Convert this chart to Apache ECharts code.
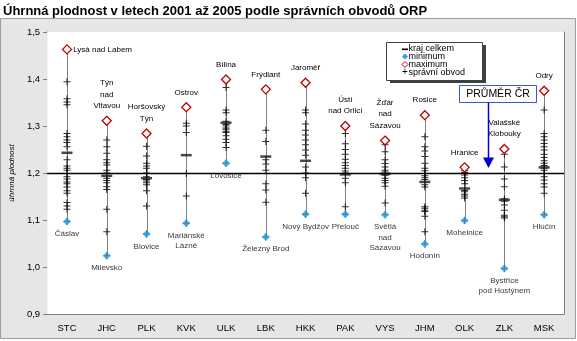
<!DOCTYPE html>
<html><head><meta charset="utf-8">
<script src="https://cdn.jsdelivr.net/npm/echarts@6/dist/echarts.min.js"></script>
<style>html,body{margin:0;padding:0;background:#fff;}#c{width:577px;height:341px;}</style>
</head><body><div id="c"></div>
<script>
const categories = ['STC','JHC','PLK','KVK','ULK','LBK','HKK','PAK','VYS','JHM','OLK','ZLK','MSK'];
const STC = [1.463,1.394,1.358,1.351,1.345,1.284,1.277,1.270,1.265,1.256,1.228,1.215,1.210,1.206,1.199,1.192,1.187,1.181,1.177,1.170,1.162,1.157,1.137,1.130,1.123,1.097];
const JHC = [1.311,1.270,1.256,1.242,1.228,1.222,1.217,1.206,1.200,1.189,1.184,1.179,1.171,1.165,1.123,1.075,1.024];
const PLK = [1.284,1.257,1.236,1.221,1.215,1.210,1.200,1.192,1.186,1.183,1.179,1.175,1.162,1.130,1.070];
const KVK = [1.340,1.306,1.300,1.286,1.199,1.151,1.093];
const ULK = [1.399,1.382,1.334,1.328,1.310,1.303,1.300,1.296,1.293,1.289,1.286,1.279,1.272,1.265,1.254,1.221];
const LBK = [1.378,1.291,1.267,1.228,1.219,1.206,1.177,1.164,1.138,1.064];
const HKK = [1.392,1.334,1.328,1.304,1.291,1.281,1.270,1.260,1.249,1.238,1.213,1.200,1.190,1.157,1.112];
const PAK = [1.300,1.284,1.262,1.250,1.240,1.229,1.222,1.216,1.210,1.204,1.200,1.189,1.179,1.128,1.112];
const VYS = [1.269,1.260,1.245,1.228,1.220,1.213,1.206,1.202,1.195,1.189,1.184,1.179,1.172,1.136,1.111];
const JHM = [1.323,1.277,1.256,1.247,1.235,1.221,1.210,1.205,1.199,1.194,1.190,1.186,1.175,1.170,1.128,1.125,1.121,1.118,1.108,1.075,1.049];
const OLK = [1.212,1.205,1.201,1.196,1.190,1.184,1.177,1.163,1.160,1.155,1.151,1.147,1.099];
const ZLK = [1.251,1.240,1.213,1.187,1.171,1.145,1.140,1.132,1.121,1.110,1.107,1.104,0.997];
const MSK = [1.375,1.334,1.284,1.277,1.270,1.263,1.256,1.249,1.240,1.233,1.226,1.221,1.216,1.210,1.206,1.199,1.192,1.185,1.177,1.170,1.157,1.111];
const krajCelkem = [1.243,1.194,1.189,1.238,1.307,1.235,1.226,1.197,1.198,1.181,1.167,1.143,1.212];
const maxNames = ['Lysá nad Labem','Týn\nnad\nVltavou','Horšovský\nTýn','Ostrov','Bílina','Frýdlant','Jaroměř','Ústí\nnad Orlicí','Žďár\nnad\nSázavou','Rosice','Hranice','Valašské\nKlobouky','Odry'];
const minNames = ['Čáslav','Milevsko','Blovice','Mariánské\nLázně','Lovosice','Železný Brod','Nový Bydžov','Přelouč','Světlá\nnad\nSázavou','Hodonín','Mohelnice','Bystřice\npod Hostýnem','Hlučín'];
const czAverage = 1.203;
const yTicks = [0.9,1.0,1.1,1.2,1.3,1.4,1.5];
const legendLabels = ['kraj celkem','minimum','maximum','správní obvod'];
const titleText = 'Úhrnná plodnost v letech 2001 až 2005 podle správních obvodů ORP';
const avgLabel = 'PRŮMĚR ČR';

const orp = [STC,JHC,PLK,KVK,ULK,LBK,HKK,PAK,VYS,JHM,OLK,ZLK,MSK];
const mins = orp.map(a => Math.min(...a));
const maxs = orp.map(a => Math.max(...a));

const smallFont = "'Liberation Sans',Arial,sans-serif";
const font = "'Liberation Sans',Arial,sans-serif";
const maxLabelStyle = {STC: {position:'right', distance:1}};
const grey = '#e6e6e6';
const maxRed = '#c00000';

const plusPath = 'path://M3,0h1v3h3v1h-3v3h-1v-3h-3v-1h3z';

const chart = echarts.init(document.getElementById('c'), null, {renderer:'canvas'});
const plusData = [];
orp.forEach((arr,i)=>arr.forEach(v=>plusData.push([i,v])));

const option = {
  animation:false,
  backgroundColor:grey,
  title:{text:titleText,left:-2,top:0,z:20,textStyle:{fontFamily:font,fontSize:13,fontWeight:'bold',color:'#000'}},
  grid:{left:43,top:32,width:521,height:282,show:true,backgroundColor:'#fff',borderWidth:0,z:1},
  xAxis:{type:'category',data:categories,boundaryGap:true,
    axisLine:{lineStyle:{color:'#808080'}},axisTick:{show:false},
    axisLabel:{fontFamily:font,fontSize:9.5,color:'#000',margin:9},
    splitLine:{show:true,interval:0,lineStyle:{color:'#808080',type:[3,3]}}},
  yAxis:[{type:'value',min:yTicks[0],max:yTicks[yTicks.length-1],interval:0.1,
    name:'úhrnná plodnost',nameLocation:'middle',nameRotate:90,nameGap:30,
    nameTextStyle:{fontFamily:smallFont,fontSize:8,fontStyle:'italic',color:'#000'},
    axisLine:{show:true,lineStyle:{color:'#808080'}},axisTick:{show:true,length:4,lineStyle:{color:'#808080'}},
    axisLabel:{fontFamily:font,fontSize:9.5,color:'#000',margin:7,formatter:v=>v.toFixed(1).replace('.',',')},
    splitLine:{show:true,showMaxLine:false,showMinLine:false,lineStyle:{color:'#808080',type:[3,3]}}},
    {type:'value',position:'right',min:yTicks[0],max:yTicks[yTicks.length-1],interval:0.1,
    axisLine:{show:true,lineStyle:{color:'#808080'}},axisTick:{show:false},axisLabel:{show:false},splitLine:{show:false}}],
  series:[
    {type:'custom',z:2,data:categories.map((c,i)=>[i,mins[i],maxs[i]]),
      renderItem:(p,api)=>{const a=api.coord([api.value(0),api.value(1)]);const b=api.coord([api.value(0),api.value(2)]);
        return {type:'line',shape:{x1:Math.round(a[0])+0.5,y1:a[1],x2:Math.round(b[0])+0.5,y2:b[1]},style:{stroke:'#7f7f7f',lineWidth:1}};},
      markLine:{silent:true,symbol:'none',label:{show:false},lineStyle:{color:'#000',width:1.4,type:'solid'},data:[{yAxis:czAverage}]}},
    {type:'scatter',z:3,symbol:plusPath,symbolSize:[7,7],itemStyle:{color:'#000'},data:plusData},
    {type:'scatter',z:4,symbol:'rect',symbolSize:[11,2.5],itemStyle:{color:'#1a1a1a'},data:krajCelkem.map((v,i)=>[i,v])},
    {type:'scatter',z:5,symbol:'diamond',symbolSize:8,itemStyle:{color:'#2ea0e6'},
      data:mins.map((v,i)=>({value:[i,v],label:{show:true,formatter:minNames[i]}})),
      label:{position:'bottom',distance:3,fontFamily:smallFont,fontSize:8,lineHeight:10.5,color:'#000',align:'center'}},
    {type:'scatter',z:5,symbol:'diamond',symbolSize:9,itemStyle:{color:'#fff',borderColor:maxRed,borderWidth:1.3,opacity:1},
      data:maxs.map((v,i)=>({value:[i,v],label:Object.assign({show:true,formatter:maxNames[i]},maxLabelStyle[categories[i]]||{})})),
      label:{position:'top',distance:4,fontFamily:smallFont,fontSize:8,lineHeight:11.5,color:'#000'}}
  ]
};
chart.setOption(option);

const yAvg = chart.convertToPixel({yAxisIndex:0}, czAverage);
const xO = chart.convertToPixel({xAxisIndex:0}, 'OLK');
const xZ = chart.convertToPixel({xAxisIndex:0}, 'ZLK');
const ax = Math.round(xO + 0.6*(xZ-xO)) + 0.5;
const lx = 397, ly = 42;
chart.setOption({graphic:[
  {type:'rect',z:0,silent:true,shape:{x:0,y:0,width:577,height:18},style:{fill:'#fff'}},
  {type:'rect',z:0,silent:true,shape:{x:576,y:0,width:1,height:341},style:{fill:'#fff'}},
  {type:'rect',z:0,silent:true,shape:{x:0,y:339,width:577,height:2},style:{fill:'#fff'}},
  {type:'rect',z:0,silent:true,shape:{x:0.5,y:18.5,width:575,height:320},style:{fill:null,stroke:'#9c9c9c',lineWidth:1}},
  {type:'rect',z:100,shape:{x:lx-7,y:ly+3,width:96,height:38},style:{fill:'#404040'}},
  {type:'rect',z:101,shape:{x:lx-10.5,y:ly+0.5,width:96,height:38},style:{fill:'#fff',stroke:'#404040',lineWidth:1}},
  {type:'rect',z:102,shape:{x:lx+5,y:ly+6.5,width:6,height:1.6},style:{fill:'#000'}},
  {type:'polygon',z:102,shape:{points:[[lx+8,ly+11.5],[lx+11,ly+14.5],[lx+8,ly+17.5],[lx+5,ly+14.5]]},style:{fill:'#2ea0e6'}},
  {type:'polygon',z:102,shape:{points:[[lx+8,ly+19.5],[lx+11,ly+22.5],[lx+8,ly+25.5],[lx+5,ly+22.5]]},style:{fill:'#fff',stroke:maxRed,lineWidth:1}},
  {type:'text',z:102,style:{x:lx+8,y:ly+30.5,text:'+',fill:'#000',font:'10px '+font,textAlign:'center',textVerticalAlign:'middle'}},
  ...legendLabels.map((t,k)=>({type:'text',z:102,style:{x:lx+11.5,y:ly+7+k*8,text:t,fill:'#000',font:'9px '+font,textVerticalAlign:'middle'}})),
  {type:'rect',z:102,shape:{x:459.5,y:85.5,width:77,height:17},style:{fill:'#fff',stroke:'#3a5bc7',lineWidth:1}},
  {type:'text',z:103,style:{x:498,y:94.5,text:avgLabel,fill:'#000',font:'10.5px '+font,textAlign:'center',textVerticalAlign:'middle'}},
  {type:'line',z:102,shape:{x1:ax,y1:102.5,x2:ax,y2:yAvg-12},style:{stroke:'#0000d8',lineWidth:1.5}},
  {type:'polygon',z:102,shape:{points:[[ax-5.5,yAvg-14],[ax+5.5,yAvg-14],[ax,yAvg-3.5]]},style:{fill:'#0000e0'}}
]});
</script></body></html>
